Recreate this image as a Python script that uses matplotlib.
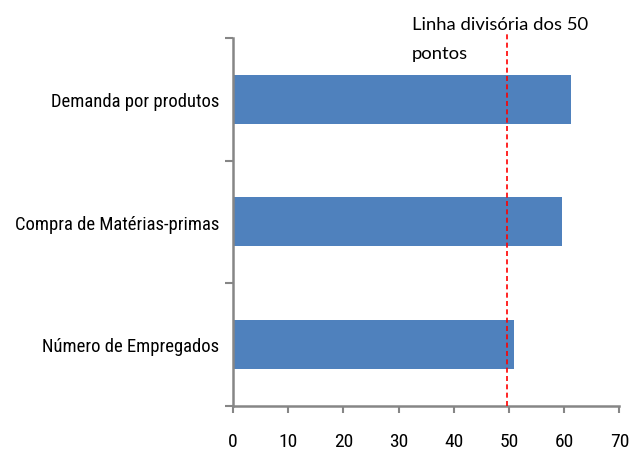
import matplotlib

matplotlib.use("Agg")
import matplotlib.pyplot as plt
from matplotlib import font_manager

categories = ["Número de Empregados", "Compra de Matérias-primas", "Demanda por produtos"]
values = [50.9, 59.6, 61.2]
x_ticks = [0, 10, 20, 30, 40, 50, 60, 70]
divider = 49.6
divider_label = "Linha divisória dos 50\npontos"

BAR = "#4F81BD"
AXIS = "#868686"


def pick_font(names):
    for name in names:
        try:
            font_manager.findfont(font_manager.FontProperties(family=name),
                                  fallback_to_default=False)
            return name
        except ValueError:
            continue
    return "DejaVu Sans"


narrow = pick_font(["Liberation Sans Narrow", "Roboto Condensed", "Open Sans Condensed"])
plain = pick_font(["Lato", "Liberation Sans"])

fig = plt.figure(figsize=(6.32, 4.52), dpi=100)
ax = fig.add_axes([0.3687, 0.1002, 0.6113, 0.8135])

pos = list(range(len(categories)))
ax.barh(pos, values, height=0.4, color=BAR, zorder=2)
ax.axvline(divider, ymax=1.016, color="red", linestyle=(0, (3, 2)), linewidth=1.2,
           zorder=3, clip_on=False)

ax.set_xlim(0, 70)
ax.set_ylim(-0.5, 2.5)
ax.set_xticks(x_ticks)
ax.set_xticklabels([str(t) for t in x_ticks], fontsize=14, family=narrow)

# category separators as major ticks, names sit on minor ticks
ax.set_yticks([-0.5, 0.5, 1.5, 2.5])
ax.set_yticklabels([])
ax.set_yticks(pos, minor=True)
ax.set_yticklabels(categories, minor=True, fontsize=13.4, family=narrow)
ax.tick_params(axis="y", which="minor", length=0, pad=10)
ax.tick_params(axis="y", which="major", length=6, width=1.5, color=AXIS, direction="out")
ax.tick_params(axis="x", length=5, width=1.5, color=AXIS, direction="out", pad=14)

for s in ["top", "right"]:
    ax.spines[s].set_visible(False)
for s in ["left", "bottom"]:
    ax.spines[s].set_color(AXIS)
    ax.spines[s].set_linewidth(1.8)

ax.text(0.463, 1.06, divider_label, transform=ax.transAxes, fontsize=13.3,
        family=plain, va="top", ha="left", linespacing=2.0)

fig.savefig("out.png", dpi=100)
